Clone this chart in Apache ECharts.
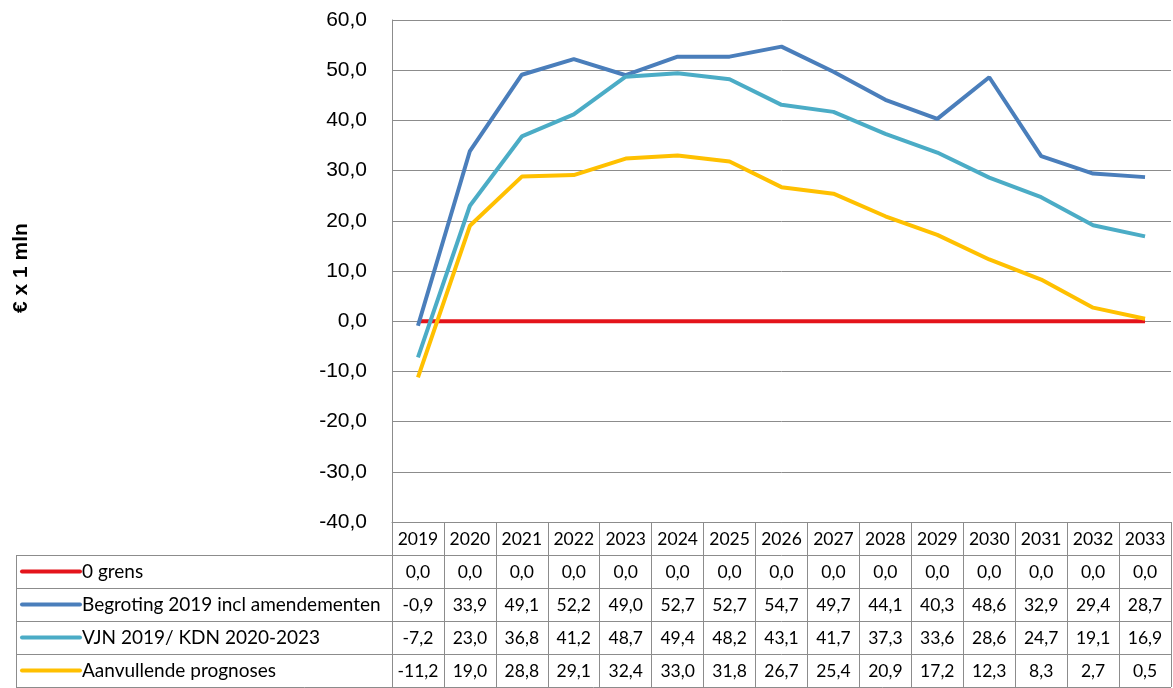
<!DOCTYPE html>
<html>
<head>
<meta charset="utf-8">
<script src="https://cdn.jsdelivr.net/npm/echarts@6/dist/echarts.min.js"></script>
<style>
html,body{margin:0;padding:0;background:#fff;}
#chart{width:1173px;height:688px;}
</style>
</head>
<body>
<div id="chart"></div>
<script>
var years = ['2019','2020','2021','2022','2023','2024','2025','2026','2027','2028','2029','2030','2031','2032','2033'];
var seriesNames = ['0 grens','Begroting 2019 incl amendementen','VJN 2019/ KDN 2020-2023','Aanvullende prognoses'];
var nulGrens = [0,0,0,0,0,0,0,0,0,0,0,0,0,0,0];
var begroting = [-0.9,33.9,49.1,52.2,49.0,52.7,52.7,54.7,49.7,44.1,40.3,48.6,32.9,29.4,28.7];
var vjnKdn = [-7.2,23.0,36.8,41.2,48.7,49.4,48.2,43.1,41.7,37.3,33.6,28.6,24.7,19.1,16.9];
var aanvullend = [-11.2,19.0,28.8,29.1,32.4,33.0,31.8,26.7,25.4,20.9,17.2,12.3,8.3,2.7,0.5];
var yTicks = {min:-40, max:60, interval:10};
var colors = ['#E4141B','#4A7EBB','#4BACC6','#FFC000'];
var allData = [nulGrens, begroting, vjnKdn, aanvullend];

function fmt(v){ return v.toFixed(1).replace('.', ','); }

var ROW = 33;
var GRID_TOP = 20, GRID_BOTTOM_Y = 522, GRID_LEFT = 392, GRID_RIGHT_X = 1171;
var tableFont = 'Lato, "Open Sans", sans-serif';
var lineCol = '#8c8c8c';

var xAxes = [{
  type:'category', data: years, gridIndex:0, position:'bottom', boundaryGap:true,
  axisLine:{show:true, onZero:false, lineStyle:{color:lineCol, width:1}},
  axisTick:{show:true, length:ROW, interval:0, lineStyle:{color:lineCol}},
  axisLabel:{show:true, interval:0, margin:8, fontSize:17.5, color:'#000', fontFamily:tableFont}
}];
allData.forEach(function(arr, k){
  xAxes.push({
    type:'category', data: years, gridIndex:0, position:'bottom', offset: ROW*(k+1), boundaryGap:true,
    axisLine:{show:true, onZero:false, lineStyle:{color:lineCol, width:1}},
    axisTick:{show:true, length:ROW, interval:0, lineStyle:{color:lineCol}},
    axisLabel:{show:true, interval:0, margin:8, fontSize:17.5, color:'#000', fontFamily:tableFont,
      formatter:(function(a){ return function(v, i){ return fmt(a[i]); }; })(arr)}
  });
});

var series = allData.map(function(arr, k){
  return {
    name: seriesNames[k], type:'line', data: arr, xAxisIndex:0, yAxisIndex:0,
    symbol:'none', smooth:false, z: 2+k,
    lineStyle:{color: colors[k], width:4}, itemStyle:{color: colors[k]}
  };
});

var graphics = [];
for (var r=1; r<=5; r++){
  var y = GRID_BOTTOM_Y + ROW*r;
  if (r===5) y = 687;
  graphics.push({type:'line', shape:{x1:16, y1:y+0.5, x2:(r===5?GRID_RIGHT_X:GRID_LEFT), y2:y+0.5}, style:{stroke:lineCol, lineWidth:1}, silent:true});
}
graphics.push({type:'line', shape:{x1:16.5, y1:GRID_BOTTOM_Y+ROW, x2:16.5, y2:688}, style:{stroke:lineCol, lineWidth:1}, silent:true});
seriesNames.forEach(function(name, k){
  var cy = GRID_BOTTOM_Y + ROW*(k+1) + ROW/2;
  graphics.push({type:'line', shape:{x1:22, y1:cy, x2:80, y2:cy}, style:{stroke:colors[k], lineWidth:4, lineCap:'round'}, silent:true});
  graphics.push({type:'text', x:82, y:cy, style:{text:name, fontSize:19, fontFamily:tableFont, fill:'#000', verticalAlign:'middle', align:'left'}, silent:true});
});
graphics.push({type:'text', x:21, y:268, rotation:Math.PI/2,
  style:{text:'€ x 1 mln', fontSize:21, fontWeight:'bold', fontFamily:'"Liberation Sans", Arial, sans-serif', fill:'#000', align:'center', verticalAlign:'middle'}, silent:true});

var option = {
  animation:false,
  backgroundColor:'#fff',
  grid:{left:GRID_LEFT, right:1173-GRID_RIGHT_X, top:GRID_TOP, bottom:688-GRID_BOTTOM_Y, containLabel:false},
  xAxis: xAxes,
  yAxis: {
    type:'value', min:yTicks.min, max:yTicks.max, interval:yTicks.interval,
    axisLine:{show:true, lineStyle:{color:lineCol}},
    axisTick:{show:false},
    splitLine:{show:true, lineStyle:{color:lineCol, width:1}},
    axisLabel:{margin:25, fontSize:21, color:'#000', fontFamily:'"Liberation Sans", Arial, sans-serif',
      formatter:function(v){ return fmt(v); }}
  },
  series: series,
  graphic: graphics
};
var chart = echarts.init(document.getElementById('chart'));
chart.setOption(option);
</script>
</body>
</html>
